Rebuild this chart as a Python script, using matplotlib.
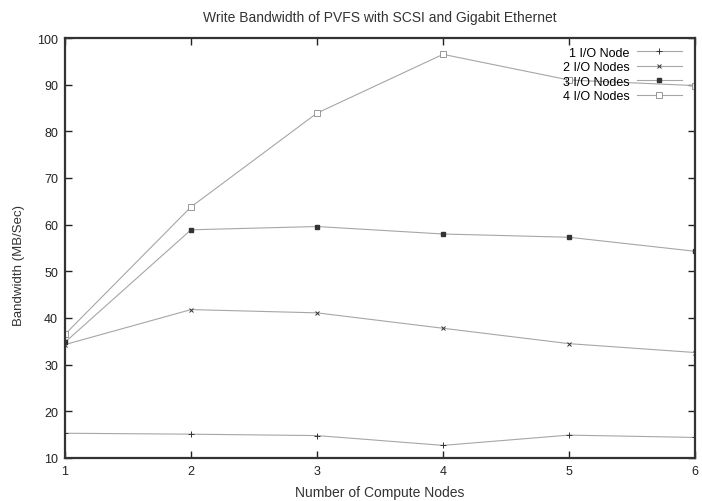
import matplotlib
matplotlib.use("Agg")
import matplotlib.pyplot as plt

plt.rcParams['font.family'] = ['Liberation Sans', 'DejaVu Sans']

compute_nodes = [1, 2, 3, 4, 5, 6]
io1 = [15.3, 15.1, 14.8, 12.7, 14.9, 14.4]
io2 = [34.3, 41.8, 41.1, 37.8, 34.5, 32.6]
io3 = [34.8, 58.9, 59.6, 58.0, 57.3, 54.3]
io4 = [36.5, 63.8, 83.9, 96.5, 91.0, 89.8]
labels = ["1 I/O Node", "2 I/O Nodes", "3 I/O Nodes", "4 I/O Nodes"]

fig = plt.figure(figsize=(7.02, 5.02), dpi=100)
ax = fig.add_axes([0.0926, 0.0857, 0.8974, 0.8366])

line_c = '#a6a6a6'
mark_c = '#333333'
ax.plot(compute_nodes, io1, color=line_c, lw=0.8, marker='+', ms=4,
        mec=mark_c, mew=0.7, label=labels[0])
ax.plot(compute_nodes, io2, color=line_c, lw=0.8, marker='x', ms=3.5,
        mec=mark_c, mew=0.7, label=labels[1])
ax.plot(compute_nodes, io3, color=line_c, lw=0.8, marker='s', ms=3,
        mec=mark_c, mfc=mark_c, label=labels[2])
ax.plot(compute_nodes, io4, color=line_c, lw=0.8, marker='s', ms=4.5,
        mec='#888888', mfc='white', mew=0.6, label=labels[3])

ax.set_xlim(1, 6)
ax.set_ylim(10, 100)
ax.set_xticks(compute_nodes)
ax.set_yticks(range(10, 101, 10))
ax.tick_params(direction='in', top=True, right=True, length=5, width=1,
               labelsize=9, colors='#222222', pad=5)
for s in ax.spines.values():
    s.set_linewidth(1.6)
    s.set_color('#333333')

ax.set_title("Write Bandwidth of PVFS with SCSI and Gigabit Ethernet",
             fontsize=10, color='#333333', pad=12)
ax.set_xlabel("Number of Compute Nodes", fontsize=10, color='#333333', labelpad=6)
ax.set_ylabel("Bandwidth (MB/Sec)", fontsize=9.5, color='#333333')
ax.yaxis.set_label_coords(-0.063, 0.46)

ax.legend(loc='upper right', frameon=False, markerfirst=False, fontsize=9,
          handlelength=3.6, labelspacing=0.2, borderaxespad=0.3,
          borderpad=0.4, handletextpad=0.6, bbox_to_anchor=(0.993, 1.0))

fig.savefig("out.png", dpi=100)
